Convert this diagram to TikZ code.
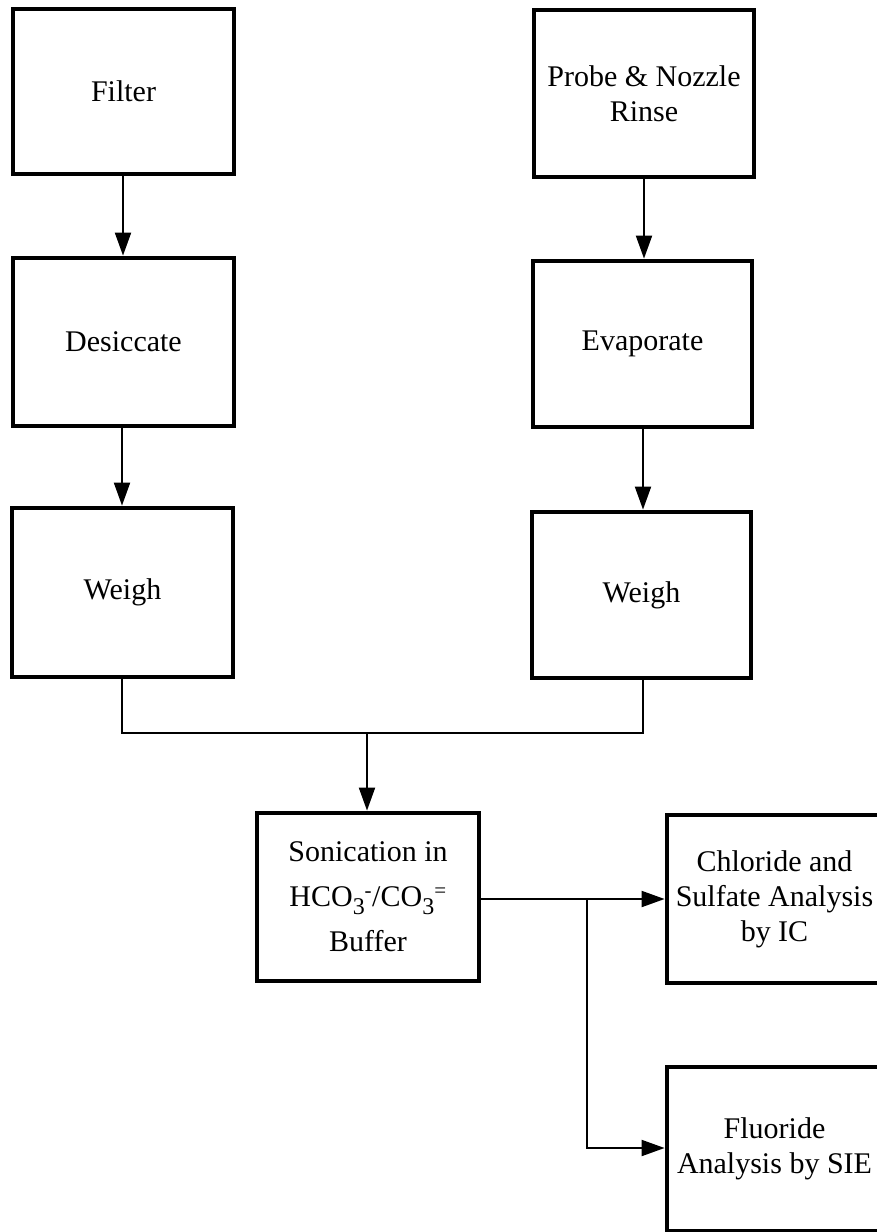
\documentclass[tikz,border=0pt]{standalone}
\usepackage{fontspec}
\setmainfont{Liberation Serif}
\usetikzlibrary{arrows.meta}
\tikzset{
  stepbox/.style={draw=black, line width=4.8pt, fill=white, align=center,
    font=\fontsize{30}{35}\selectfont, inner sep=0pt},
  flow/.style={draw=black, line width=2pt},
  flowarrow/.style={flow, -{Triangle[length=23pt,width=16pt]}}
}
\newcommand{\boxat}[6]{% name, x1, y1, x2, y2, text
  \node[stepbox, minimum width={#4-#2}, minimum height={#5-#3}]
    (#1) at ({(#2+#4)/2},{(#3+#5)/2}) {#6};}
% lowered subscript three used in the buffer formula
\newcommand{\subthree}{\raisebox{-8pt}{\fontsize{24}{24}\selectfont 3}}
\begin{document}
\begin{tikzpicture}[x=1pt, y=-1pt]
  \useasboundingbox (0,0) rectangle (877,1232);
  \clip (0,0) rectangle (877,1232);
  \fill[white] (0,0) rectangle (877,1232);

  % left column: filter sample
  \boxat{filter}{13}{9}{234}{174}{Filter}
  \boxat{desic}{13}{258}{234}{426}{Desiccate}
  \boxat{weighL}{12}{508}{233}{677}{Weigh}

  % right column: probe rinse sample
  \boxat{probe}{534}{10}{754}{177}{Probe \& Nozzle\\Rinse}
  \boxat{evap}{533}{261}{752}{427}{Evaporate}
  \boxat{weighR}{532}{512}{751}{678}{Weigh}

  % extraction and analyses
  \boxat{sonic}{257}{813}{479}{981}{Sonication in\\[10pt]HCO\subthree\textsuperscript{-}/CO\subthree\textsuperscript{=}\\[10pt]Buffer}
  \boxat{chlor}{667}{815}{882}{983}{Chloride and\\Sulfate Analysis\\by IC}
  \boxat{fluor}{667}{1067}{882}{1231}{Fluoride\\Analysis by SIE}

  % vertical flows
  \draw[flowarrow] (filter.south -| 123,0) -- (desic.north -| 123,0);
  \draw[flowarrow] (desic.south -| 122,0) -- (weighL.north -| 122,0);
  \draw[flowarrow] (probe.south -| 644,0) -- (evap.north -| 644,0);
  \draw[flowarrow] (evap.south -| 643,0) -- (weighR.north -| 643,0);

  % merge of both weighed fractions
  \coordinate (mergeL) at (122,733);
  \coordinate (mergeR) at (643,733);
  \coordinate (mergeC) at (367,733);
  \draw[flow] (weighL.south -| mergeL) -- (mergeL) -- (mergeR) -- (weighR.south -| mergeR);
  \draw[flowarrow] (mergeC) -- (sonic.north -| mergeC);

  % split to the two analyses
  \coordinate (split) at (587,899);
  \coordinate (splitDown) at (587,1148);
  \draw[flowarrow] (sonic.east |- split) -- (chlor.west |- split);
  \draw[flowarrow] (split) -- (splitDown) -- (fluor.west |- splitDown);
\end{tikzpicture}
\end{document}
